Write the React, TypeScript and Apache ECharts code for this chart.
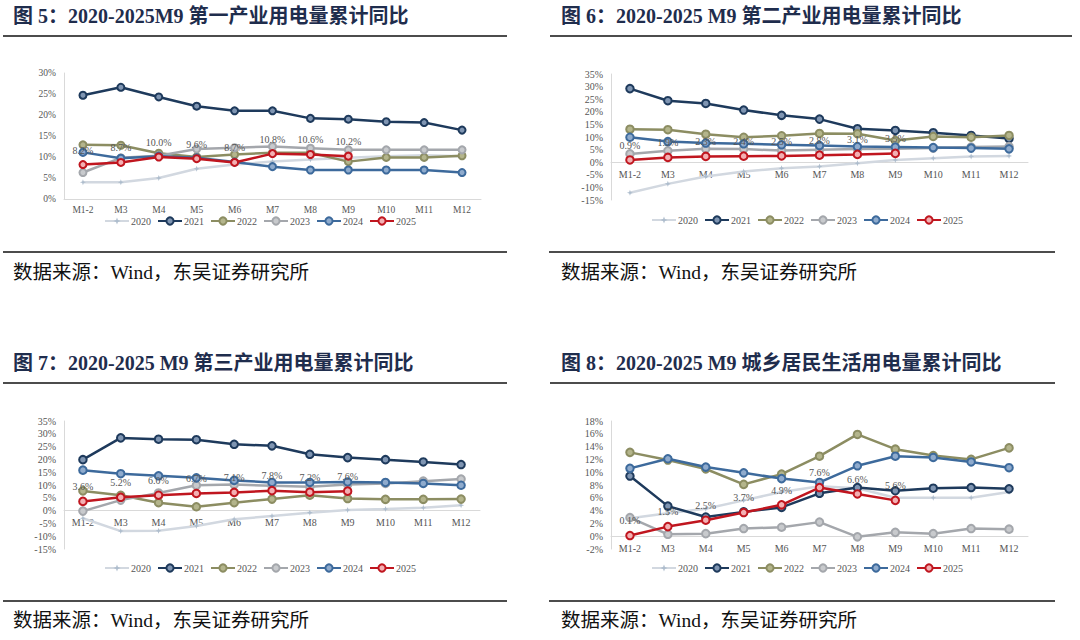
import { useEffect, useRef } from 'react';
import * as echarts from 'echarts';

const months = ['M1-2', 'M3', 'M4', 'M5', 'M6', 'M7', 'M8', 'M9', 'M10', 'M11', 'M12'];
const years = ['2020', '2021', '2022', '2023', '2024', '2025'];

// 图5 第一产业用电量累计同比 (%)
const primary2020 = [4.0, 4.0, 5.0, 7.2, 8.2, 8.9, 9.4, 9.8, 10.2, 10.4, 10.2];
const primary2021 = [24.7, 26.6, 24.3, 22.1, 21.0, 21.0, 19.2, 19.0, 18.4, 18.2, 16.4];
const primary2022 = [12.9, 12.8, 10.9, 10.0, 10.6, 11.0, 11.0, 8.9, 9.9, 9.9, 10.3];
const primary2023 = [6.3, 9.8, 10.3, 11.9, 12.2, 12.5, 12.1, 11.7, 11.7, 11.7, 11.7];
const primary2024 = [11.1, 9.7, 10.2, 9.8, 8.8, 7.7, 6.9, 6.9, 6.9, 6.9, 6.3];
const primary2025 = [8.2, 8.7, 10.0, 9.6, 8.7, 10.8, 10.6, 10.2];

// 图6 第二产业用电量累计同比 (%)
const secondary2020 = [-12.1, -8.6, -5.7, -3.7, -2.4, -1.7, -0.4, 0.9, 1.6, 2.3, 2.5];
const secondary2021 = [29.2, 24.4, 23.3, 20.7, 18.6, 17.1, 13.3, 12.6, 11.7, 10.6, 9.4];
const secondary2022 = [13.1, 12.9, 11.1, 9.9, 10.5, 11.4, 11.3, 8.6, 10.2, 9.9, 10.6];
const secondary2023 = [3.3, 4.5, 5.3, 5.2, 4.6, 4.9, 5.2, 5.3, 5.6, 6.0, 6.2];
const secondary2024 = [9.9, 8.2, 7.6, 7.3, 6.9, 6.6, 6.2, 6.0, 5.8, 5.6, 5.3];
const secondary2025 = [0.9, 1.9, 2.3, 2.4, 2.5, 2.8, 3.1, 3.5];

// 图7 第三产业用电量累计同比 (%)
const tertiary2020 = [-3.0, -8.0, -7.9, -6.0, -3.4, -2.1, -0.8, 0.2, 0.6, 1.1, 2.1];
const tertiary2021 = [19.9, 28.4, 27.9, 27.7, 25.9, 25.3, 22.0, 20.7, 19.9, 19.0, 18.0];
const tertiary2022 = [7.7, 6.0, 3.1, 1.5, 3.1, 4.5, 6.0, 4.7, 4.4, 4.4, 4.5];
const tertiary2023 = [-0.2, 4.1, 6.9, 9.9, 10.2, 9.7, 9.3, 10.2, 10.6, 11.5, 12.3];
const tertiary2024 = [15.8, 14.4, 13.6, 12.8, 11.8, 11.0, 11.0, 11.2, 11.0, 10.6, 9.9];
const tertiary2025 = [3.6, 5.2, 6.0, 6.7, 7.1, 7.8, 7.2, 7.6];

// 图8 城乡居民生活用电量累计同比 (%)
const resident2020 = [2.8, 3.6, 4.3, 5.6, 6.9, 7.8, 7.5, 6.0, 6.0, 6.0, 6.9];
const resident2021 = [9.4, 4.7, 3.0, 3.8, 4.5, 6.7, 7.6, 7.1, 7.5, 7.6, 7.4];
const resident2022 = [13.1, 11.9, 10.5, 8.1, 9.7, 12.5, 15.9, 13.6, 12.6, 12.0, 13.8];
const resident2023 = [2.9, 0.3, 0.4, 1.2, 1.4, 2.2, -0.1, 0.6, 0.4, 1.2, 1.1];
const resident2024 = [10.6, 12.1, 10.8, 9.9, 9.0, 8.4, 11.0, 12.5, 12.3, 11.6, 10.7];
const resident2025 = [0.1, 1.5, 2.5, 3.7, 4.9, 7.6, 6.6, 5.6];

const titles = [
  '图 5：2020-2025M9 第一产业用电量累计同比',
  '图 6：2020-2025 M9 第二产业用电量累计同比',
  '图 7：2020-2025 M9 第三产业用电量累计同比',
  '图 8：2020-2025 M9 城乡居民生活用电量累计同比',
];
const source = '数据来源：Wind，东吴证券研究所';

const lineColors = ['#d2d8e0', '#1e3a5c', '#8c8d62', '#a4a7ac', '#3d6a9c', '#c0161f'];
const markerFills = ['#aebdcd', '#7f95b2', '#b4b58c', '#c8cacd', '#8fabcd', '#f3b0b3'];
const star = 'path://M5,0 L6.3,3.7 L10,5 L6.3,6.3 L5,10 L3.7,6.3 L0,5 L3.7,3.7 Z';

const serif = "'Liberation Serif', 'Noto Sans CJK SC', serif";
const labelGrey = '#555555';

if (typeof document !== 'undefined') document.body.style.margin = '0';

const panels = [
  {
    data: [primary2020, primary2021, primary2022, primary2023, primary2024, primary2025],
    grid: { left: 64, top: 73, width: 417, height: 126 },
    y: { min: 0, max: 30, interval: 5 },
    legend: { left: 104, top: 216 },
    fontSize: 9.5,
    labelMargin: 6,
    symbolSize: 7,
  },
  {
    data: [secondary2020, secondary2021, secondary2022, secondary2023, secondary2024, secondary2025],
    grid: { left: 611, top: 74, width: 417, height: 126 },
    y: { min: -15, max: 35, interval: 5 },
    legend: { left: 651, top: 215 },
    fontSize: 10,
    labelMargin: 7,
    symbolSize: 7.5,
  },
  {
    data: [tertiary2020, tertiary2021, tertiary2022, tertiary2023, tertiary2024, tertiary2025],
    grid: { left: 64, top: 421, width: 416, height: 128 },
    y: { min: -15, max: 35, interval: 5 },
    legend: { left: 104, top: 563 },
    fontSize: 10,
    labelMargin: 7,
    symbolSize: 7.5,
  },
  {
    data: [resident2020, resident2021, resident2022, resident2023, resident2024, resident2025],
    grid: { left: 611, top: 421, width: 417, height: 128 },
    y: { min: -2, max: 18, interval: 2 },
    legend: { left: 651, top: 563 },
    fontSize: 10,
    labelMargin: 7,
    symbolSize: 7.5,
  },
];

const frame = [
  { title: [13, 16], rule: [3, 36, 507], foot: [3, 252, 507], src: [13, 272] },
  { title: [561, 16], rule: [550, 36, 1072], foot: [549, 252, 1055], src: [561, 272] },
  { title: [13, 363], rule: [3, 383, 507], foot: [3, 601, 507], src: [13, 620] },
  { title: [561, 363], rule: [550, 383, 1055], foot: [549, 601, 1055], src: [561, 620] },
];

function buildOption(): any {
  const grids: any[] = [];
  const xAxes: any[] = [];
  const yAxes: any[] = [];
  const legends: any[] = [];
  const series: any[] = [];
  const graphics: any[] = [];

  panels.forEach((p, gi) => {
    grids.push({ ...p.grid, containLabel: false, outerBoundsMode: 'none' });
    // put the category axis on the 0% line
    const zeroShift = (p.y.min / (p.y.max - p.y.min)) * p.grid.height;
    xAxes.push({
      type: 'category',
      gridIndex: gi,
      data: months,
      boundaryGap: true,
      position: 'bottom',
      offset: zeroShift,
      axisLine: { show: true, onZero: false, lineStyle: { color: '#d9d9d9', width: 1 } },
      axisTick: { show: false },
      axisLabel: {
        color: labelGrey,
        fontSize: p.fontSize,
        fontFamily: serif,
        margin: p.labelMargin,
        interval: 0,
      },
      splitLine: { show: false },
    });
    yAxes.push({
      type: 'value',
      gridIndex: gi,
      min: p.y.min,
      max: p.y.max,
      interval: p.y.interval,
      axisLine: { show: true, lineStyle: { color: '#d9d9d9', width: 1 } },
      axisTick: { show: false },
      splitLine: { show: false },
      axisLabel: {
        color: labelGrey,
        fontSize: p.fontSize,
        fontFamily: serif,
        margin: 8,
        formatter: (v: number) => `${v}%`,
      },
    });
    legends.push({
      show: true,
      orient: 'horizontal',
      left: p.legend.left,
      top: p.legend.top,
      itemWidth: 24,
      itemHeight: 9,
      itemGap: 6,
      padding: 0,
      data: years,
      selectedMode: false,
      textStyle: { color: labelGrey, fontSize: 10, fontFamily: serif, padding: [0, 0, 0, -3] },
    });
    p.data.forEach((vals, si) => {
      const isLatest = si === years.length - 1;
      series.push({
        type: 'line',
        name: years[si],
        xAxisIndex: gi,
        yAxisIndex: gi,
        data: vals,
        symbol: si === 0 ? star : 'circle',
        symbolSize: si === 0 ? 6 : p.symbolSize,
        showAllSymbol: true,
        z: 2 + si,
        lineStyle: { color: lineColors[si], width: 2.5 },
        itemStyle: {
          color: markerFills[si],
          borderColor: si === 0 ? markerFills[si] : lineColors[si],
          borderWidth: si === 0 ? 0 : 2,
        },
        emphasis: { disabled: true },
        label: isLatest
          ? {
              show: true,
              position: 'top',
              distance: 5,
              color: labelGrey,
              fontSize: 10,
              fontFamily: serif,
              formatter: (d: any) => `${Number(d.value).toFixed(1)}%`,
            }
          : { show: false },
      });
    });
  });

  frame.forEach((f, i) => {
    graphics.push({
      type: 'text',
      x: f.title[0],
      y: f.title[1],
      style: {
        text: titles[i],
        fill: '#1f2d4d',
        fontSize: 20,
        fontWeight: 'bold',
        fontFamily: serif,
        verticalAlign: 'middle',
      },
    });
    graphics.push({
      type: 'line',
      shape: { x1: f.rule[0], y1: f.rule[1], x2: f.rule[2], y2: f.rule[1] },
      style: { stroke: '#111', lineWidth: 1.6 },
    });
    graphics.push({
      type: 'line',
      shape: { x1: f.foot[0], y1: f.foot[1], x2: f.foot[2], y2: f.foot[1] },
      style: { stroke: '#111', lineWidth: 1.6 },
    });
    graphics.push({
      type: 'text',
      x: f.src[0],
      y: f.src[1],
      style: {
        text: source,
        fill: '#111',
        fontSize: 19.5,
        fontFamily: serif,
        verticalAlign: 'middle',
      },
    });
  });

  return {
    backgroundColor: '#ffffff',
    animation: false,
    grid: grids,
    xAxis: xAxes,
    yAxis: yAxes,
    legend: legends,
    tooltip: { show: false },
    series,
    graphic: graphics,
  };
}

export default function App() {
  const ref = useRef<HTMLDivElement>(null);

  useEffect(() => {
    if (!ref.current) return;
    document.body.style.margin = '0';
    const chart = echarts.init(ref.current, null, { renderer: 'svg' });
    chart.setOption(buildOption());
    return () => chart.dispose();
  }, []);

  return <div ref={ref} style={{ width: 1080, height: 640, background: '#fff' }} />;
}
